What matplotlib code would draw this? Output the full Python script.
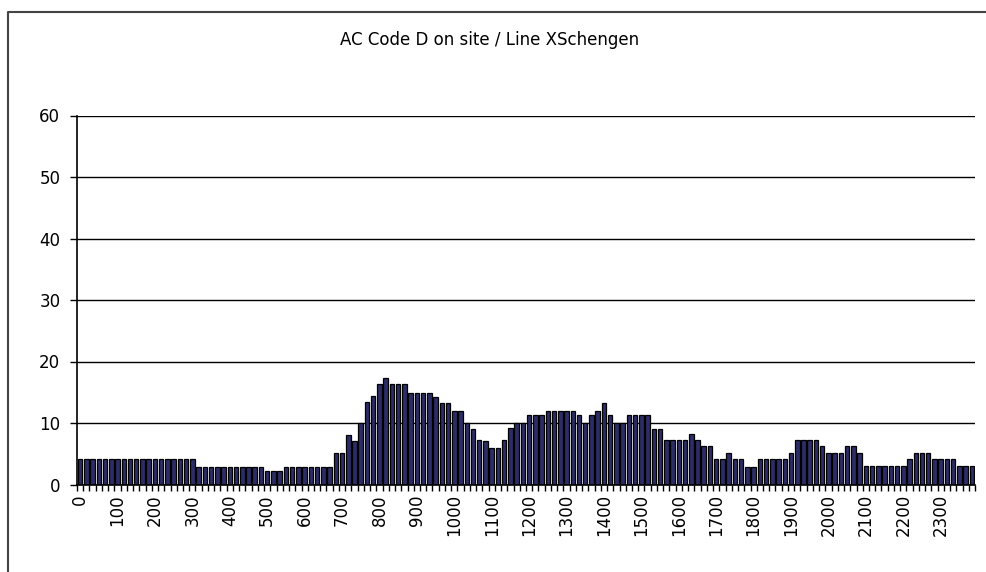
import matplotlib
matplotlib.use("Agg")
import matplotlib.pyplot as plt
from matplotlib.lines import Line2D
import numpy as np

# one bar every 10 minutes, 0:00 .. 23:50 (HHMM without leading zeros)
hour_labels = ["0", "100", "200", "300", "400", "500", "600", "700", "800",
               "900", "1000", "1100", "1200", "1300", "1400", "1500", "1600",
               "1700", "1800", "1900", "2000", "2100", "2200", "2300"]
minute_steps = [0, 10, 20, 30, 40, 50]

values = [
    4.2, 4.2, 4.2, 4.2, 4.2, 4.2,        # 0
    4.2, 4.2, 4.2, 4.2, 4.2, 4.2,        # 100
    4.2, 4.2, 4.2, 4.2, 4.2, 4.2,        # 200
    4.2, 2.9, 2.9, 2.9, 2.9, 2.9,        # 300
    2.9, 2.9, 2.9, 2.9, 2.9, 2.9,        # 400
    2.2, 2.2, 2.2, 2.9, 2.9, 2.9,        # 500
    2.9, 2.9, 2.9, 2.9, 2.9, 5.2,        # 600
    5.2, 8.1, 7.1, 10.0, 13.4, 14.4,     # 700
    16.3, 17.3, 16.3, 16.3, 16.3, 14.9,  # 800
    14.9, 14.9, 14.9, 14.3, 13.3, 13.3,  # 900
    12.0, 12.0, 10.0, 9.1, 7.2, 7.1,     # 1000
    6.0, 6.0, 7.2, 9.2, 10.0, 10.0,      # 1100
    11.3, 11.3, 11.3, 12.0, 12.0, 12.0,  # 1200
    12.0, 12.0, 11.3, 10.0, 11.3, 12.0,  # 1300
    13.2, 11.3, 10.0, 10.0, 11.3, 11.3,  # 1400
    11.3, 11.3, 9.1, 9.1, 7.2, 7.2,      # 1500
    7.2, 7.2, 8.2, 7.2, 6.2, 6.2,        # 1600
    4.2, 4.2, 5.2, 4.2, 4.2, 2.9,        # 1700
    2.9, 4.2, 4.2, 4.2, 4.2, 4.2,        # 1800
    5.2, 7.2, 7.2, 7.2, 7.2, 6.2,        # 1900
    5.2, 5.2, 5.2, 6.2, 6.2, 5.2,        # 2000
    3.0, 3.0, 3.0, 3.0, 3.0, 3.0,        # 2100
    3.0, 4.2, 5.1, 5.1, 5.1, 4.2,        # 2200
    4.2, 4.2, 4.2, 3.0, 3.0, 3.0,        # 2300
]

title = "AC Code D on site / Line XSchengen"

W, H = 986, 572
fig = plt.figure(figsize=(W / 100, H / 100), dpi=100)
fig.patch.set_facecolor("white")

ax_left, ax_right = 77 / W, 975 / W
ax_bottom, ax_top = 1 - 484.5 / H, 1 - 115.5 / H
ax = fig.add_axes([ax_left, ax_bottom, ax_right - ax_left, ax_top - ax_bottom])

x = np.arange(len(values))
ax.bar(x, values, width=0.72, color="#2c2c66", edgecolor="black", linewidth=0.9, zorder=3)

ax.set_xlim(-0.5, len(values) - 0.5)
ax.set_ylim(0, 60)
ax.set_yticks(range(0, 61, 10))
ax.yaxis.grid(True, color="black", linewidth=1.0, zorder=1)
ax.set_axisbelow(True)

ax.set_xticks(np.arange(0, len(values), len(minute_steps)))
ax.set_xticklabels(hour_labels, rotation=90)
ax.set_xticks(np.arange(-0.5, len(values), 1), minor=True)
ax.tick_params(axis="x", which="major", length=0, pad=7, labelsize=12)
ax.tick_params(axis="x", which="minor", length=4, width=1, direction="out")
ax.tick_params(axis="y", length=5, width=1, direction="out", pad=7, labelsize=12)

for side in ("top", "right"):
    ax.spines[side].set_visible(False)
for side in ("left", "bottom"):
    ax.spines[side].set_linewidth(1.2)
    ax.spines[side].set_zorder(4)

fig.text(0.497, 1 - 40 / H, title, ha="center", va="center", fontsize=12)

# chart area border (cut off at right and bottom in the original)
fig.add_artist(Line2D([8 / W, 8 / W, 1.0], [0.0, 1 - 12 / H, 1 - 12 / H],
                      transform=fig.transFigure, color="#444444", linewidth=1.5))

fig.savefig("out.png", dpi=100)
